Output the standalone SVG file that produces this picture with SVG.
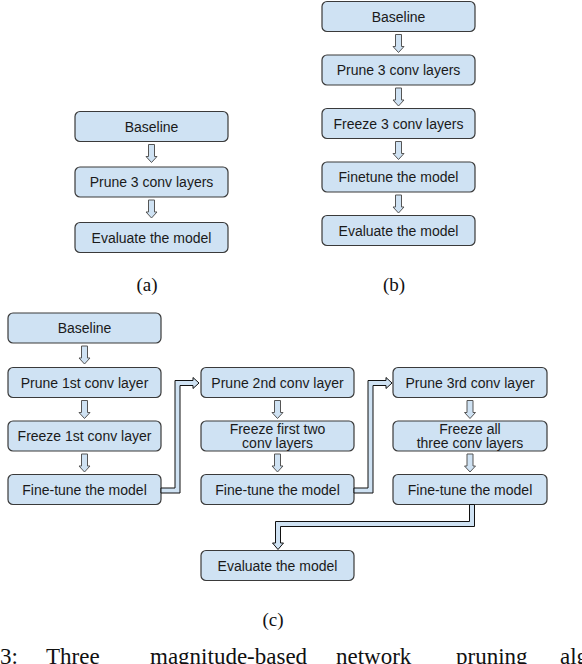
<svg xmlns="http://www.w3.org/2000/svg" xmlns:xlink="http://www.w3.org/1999/xlink" width="582" height="664" viewBox="0 0 582 664">
<style>
.box{fill:#cfe2f3;stroke:#3a3a3a;stroke-width:1.2}
.t{font-family:"Liberation Sans",Arial,sans-serif;font-size:14px;fill:#1a1a1a;text-anchor:middle}
.lbl{font-family:"Liberation Serif","Times New Roman",serif;font-size:19px;fill:#111;text-anchor:middle}
.cap{font-family:"Liberation Serif","Times New Roman",serif;font-size:23px;fill:#111}
.dn{fill:#cfe2f3;stroke:#555;stroke-width:1}
.pipe{fill:#cfe2f3;stroke:#111;stroke-width:1}
</style>
<defs>
<path id="darr" d="M-3,0 H3 V12 H5.5 L0,18 L-5.5,12 H-3 Z"/>
</defs>
<rect width="582" height="664" fill="#fff"/>

<g id="a1"><rect class="box" x="75" y="111.5" width="153" height="30" rx="5"/><text class="t" x="151.5" y="131.5">Baseline</text></g>
<g id="a2"><rect class="box" x="75" y="167" width="153" height="30" rx="5"/><text class="t" x="151.5" y="187">Prune 3 conv layers</text></g>
<g id="a3"><rect class="box" x="75" y="222.5" width="153" height="30" rx="5"/><text class="t" x="151.5" y="242.5">Evaluate the model</text></g>

<g id="b1"><rect class="box" x="322" y="1.5" width="153" height="30" rx="5"/><text class="t" x="398.5" y="21.5">Baseline</text></g>
<g id="b2"><rect class="box" x="322" y="55" width="153" height="30" rx="5"/><text class="t" x="398.5" y="75">Prune 3 conv layers</text></g>
<g id="b3"><rect class="box" x="322" y="108.5" width="153" height="30" rx="5"/><text class="t" x="398.5" y="128.5">Freeze 3 conv layers</text></g>
<g id="b4"><rect class="box" x="322" y="162" width="153" height="30" rx="5"/><text class="t" x="398.5" y="182">Finetune the model</text></g>
<g id="b5"><rect class="box" x="322" y="215.5" width="153" height="30" rx="5"/><text class="t" x="398.5" y="235.5">Evaluate the model</text></g>

<g id="c1"><rect class="box" x="8" y="313" width="153" height="30" rx="5"/><text class="t" x="84.5" y="333">Baseline</text></g>
<g id="c2"><rect class="box" x="8" y="367.5" width="153" height="30" rx="5"/><text class="t" x="84.5" y="387.5">Prune 1st conv layer</text></g>
<g id="c3"><rect class="box" x="8" y="421" width="153" height="30" rx="5"/><text class="t" x="84.5" y="441">Freeze 1st conv layer</text></g>
<g id="c4"><rect class="box" x="8" y="474.5" width="153" height="30" rx="5"/><text class="t" x="84.5" y="494.5">Fine-tune the model</text></g>

<g id="c5"><rect class="box" x="201" y="367.5" width="153" height="30" rx="5"/><text class="t" x="277.5" y="387.5">Prune 2nd conv layer</text></g>
<g id="c6"><rect class="box" x="201" y="421" width="153" height="30" rx="5"/><text class="t" x="277.5" y="433.5">Freeze first two</text><text class="t" x="277.5" y="447.5">conv layers</text></g>
<g id="c7"><rect class="box" x="201" y="474.5" width="153" height="30" rx="5"/><text class="t" x="277.5" y="494.5">Fine-tune the model</text></g>

<g id="c8"><rect class="box" x="393" y="367.5" width="154" height="30" rx="5"/><text class="t" x="470" y="387.5">Prune 3rd conv layer</text></g>
<g id="c9"><rect class="box" x="393" y="421" width="154" height="30" rx="5"/><text class="t" x="470" y="433.5">Freeze all</text><text class="t" x="470" y="447.5">three conv layers</text></g>
<g id="c10"><rect class="box" x="393" y="474.5" width="154" height="30" rx="5"/><text class="t" x="470" y="494.5">Fine-tune the model</text></g>

<g id="c11"><rect class="box" x="201" y="550.5" width="153" height="30" rx="5"/><text class="t" x="277.5" y="570.5">Evaluate the model</text></g>

<g id="connectors">
<use xlink:href="#darr" class="dn" x="151.5" y="144.5"/>
<use xlink:href="#darr" class="dn" x="151.5" y="200"/>
<use xlink:href="#darr" class="dn" x="398.5" y="34.5"/>
<use xlink:href="#darr" class="dn" x="398.5" y="88"/>
<use xlink:href="#darr" class="dn" x="398.5" y="141.5"/>
<use xlink:href="#darr" class="dn" x="398.5" y="195"/>
<use xlink:href="#darr" class="dn" x="84.5" y="346"/>
<use xlink:href="#darr" class="dn" x="84.5" y="400.5"/>
<use xlink:href="#darr" class="dn" x="84.5" y="454"/>
<use xlink:href="#darr" class="dn" x="277.5" y="400.5"/>
<use xlink:href="#darr" class="dn" x="277.5" y="454"/>
<use xlink:href="#darr" class="dn" x="470" y="400.5"/>
<use xlink:href="#darr" class="dn" x="470" y="454"/>
<path class="pipe" d="M161,488 H175 V380.5 H193 V377.5 L199,383 L193,388.5 V385.5 H180 V493 H161 Z"/>
<path class="pipe" d="M354,488 H368 V380.5 H386 V377.5 L392,383 L386,388.5 V385.5 H373 V493 H354 Z"/>
<path class="pipe" d="M469.5,504.5 V521.5 H275.5 V543 H272.5 L278,549.5 L283.5,543 H280.5 V526.5 H474.5 V504.5 Z"/>
</g>

<text class="lbl" x="147" y="291">(a)</text>
<text class="lbl" x="394" y="291">(b)</text>
<text class="lbl" x="273" y="626">(c)</text>

<text class="cap" x="0" y="664">3:</text>
<text class="cap" x="46" y="664">Three</text>
<text class="cap" x="150" y="664">magnitude-based</text>
<text class="cap" x="336" y="664">network</text>
<text class="cap" x="456" y="664">pruning</text>
<text class="cap" x="560" y="664">alg</text>
</svg>
